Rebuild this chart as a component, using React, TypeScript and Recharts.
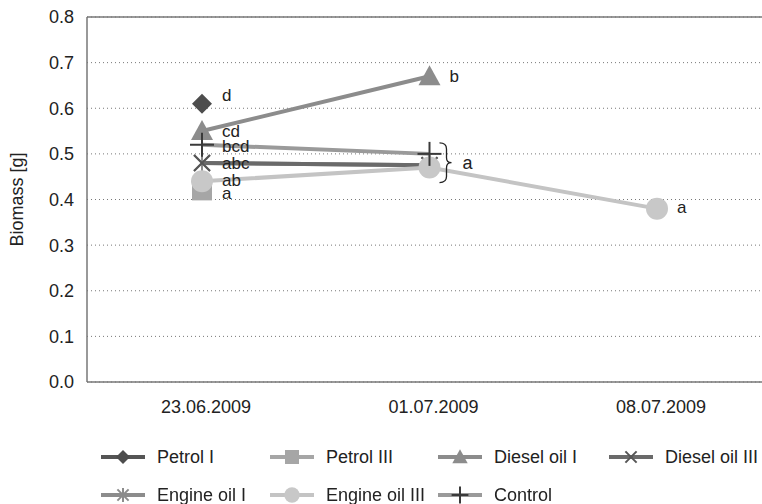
import React from 'react';
import { LineChart, Line, XAxis, YAxis, CartesianGrid, ReferenceLine, LabelList } from 'recharts';

const categories = ['23.06.2009', '01.07.2009', '08.07.2009'];
const yTicks = [0, 0.1, 0.2, 0.3, 0.4, 0.5, 0.6, 0.7, 0.8];

const petrolI = [0.61, null, null];
const petrolIII = [0.42, null, null];
const dieselI = [0.55, 0.67, null];
const dieselIII = [0.48, 0.475, null];
const engineI = [0.48, 0.475, null];
const engineIII = [0.44, 0.47, 0.38];
const control = [0.52, 0.5, null];

// significance letters next to the points
const petrolILetters = ['d', '', ''];
const petrolIIILetters = ['a', '', ''];
const dieselILetters = ['cd', 'b', ''];
const dieselIIILetters = ['', '', ''];
const engineILetters = ['abc', '', ''];
const engineIIILetters = ['ab', '', 'a'];
const controlLetters = ['bcd', '', ''];

// the three series grouped by the brace on 01.07.2009
const braceGroup = [control[1], dieselIII[1], engineIII[1]] as number[];
const braceLetter = 'a';

const FONT = '"Liberation Sans", Arial, sans-serif';

type MarkerKind = 'diamond' | 'square' | 'triangle' | 'x' | 'star' | 'circle' | 'plus';

interface SeriesDef {
  key: string;
  name: string;
  values: (number | null)[];
  letters: string[];
  line: string;
  marker: MarkerKind;
  markerColor: string;
  labelDy: number;
}

const series: SeriesDef[] = [
  { key: 'petrolI', name: 'Petrol I', values: petrolI, letters: petrolILetters, line: '#555555', marker: 'diamond', markerColor: '#4d4d4d', labelDy: -8 },
  { key: 'petrolIII', name: 'Petrol III', values: petrolIII, letters: petrolIIILetters, line: '#a6a6a6', marker: 'square', markerColor: '#a6a6a6', labelDy: 3 },
  { key: 'dieselI', name: 'Diesel oil I', values: dieselI, letters: dieselILetters, line: '#8c8c8c', marker: 'triangle', markerColor: '#8c8c8c', labelDy: 0 },
  { key: 'engineI', name: 'Engine oil I', values: engineI, letters: engineILetters, line: '#8c8c8c', marker: 'star', markerColor: '#8c8c8c', labelDy: 0 },
  { key: 'dieselIII', name: 'Diesel oil III', values: dieselIII, letters: dieselIIILetters, line: '#6a6a6a', marker: 'x', markerColor: '#555555', labelDy: 0 },
  { key: 'engineIII', name: 'Engine oil III', values: engineIII, letters: engineIIILetters, line: '#c4c4c4', marker: 'circle', markerColor: '#c8c8c8', labelDy: -1 },
  { key: 'control', name: 'Control', values: control, letters: controlLetters, line: '#9a9a9a', marker: 'plus', markerColor: '#3a3a3a', labelDy: 2 },
];

// legend order and placement (two rows, Excel style)
const legendRows = [
  ['petrolI', 'petrolIII', 'dieselI', 'dieselIII'],
  ['engineI', 'engineIII', 'control'],
];
const legendCols = [101, 270, 438, 609];
const legendRowY = [457, 495];

const data = categories.map((date, i) => {
  const row: any = { date };
  series.forEach((s) => {
    row[s.key] = s.values[i];
    row[s.key + 'Sig'] = s.letters[i];
  });
  return row;
});

const Marker = ({ kind, cx, cy, color, size = 10 }: { kind: MarkerKind; cx: number; cy: number; color: string; size?: number }) => {
  const s = size;
  switch (kind) {
    case 'diamond':
      return <polygon points={`${cx},${cy - s} ${cx + s},${cy} ${cx},${cy + s} ${cx - s},${cy}`} fill={color} />;
    case 'square':
      return <rect x={cx - s} y={cy - s} width={2 * s} height={2 * s} fill={color} />;
    case 'triangle':
      return <polygon points={`${cx},${cy - s * 1.1} ${cx + s * 1.1},${cy + s * 0.9} ${cx - s * 1.1},${cy + s * 0.9}`} fill={color} />;
    case 'circle':
      return <circle cx={cx} cy={cy} r={s * 1.1} fill={color} />;
    case 'x':
      return (
        <g stroke={color} strokeWidth={2}>
          <line x1={cx - s * 0.8} y1={cy - s * 0.8} x2={cx + s * 0.8} y2={cy + s * 0.8} />
          <line x1={cx - s * 0.8} y1={cy + s * 0.8} x2={cx + s * 0.8} y2={cy - s * 0.8} />
        </g>
      );
    case 'star':
      return (
        <g stroke={color} strokeWidth={2}>
          <line x1={cx - s * 0.8} y1={cy - s * 0.8} x2={cx + s * 0.8} y2={cy + s * 0.8} />
          <line x1={cx - s * 0.8} y1={cy + s * 0.8} x2={cx + s * 0.8} y2={cy - s * 0.8} />
          <line x1={cx} y1={cy - s} x2={cx} y2={cy + s} />
        </g>
      );
    case 'plus':
      return (
        <g stroke={color} strokeWidth={2}>
          <line x1={cx - s * 1.2} y1={cy} x2={cx + s * 1.2} y2={cy} />
          <line x1={cx} y1={cy - s * 1.2} x2={cx} y2={cy + s * 1.2} />
        </g>
      );
  }
  return null;
};

const renderDot = (s: SeriesDef) => (props: any) => {
  const { cx, cy, index, value } = props;
  if (value == null || cx == null || cy == null) return <g key={`${s.key}-dot-${index}`} />;
  return (
    <g key={`${s.key}-dot-${index}`}>
      <Marker kind={s.marker} cx={cx} cy={cy} color={s.markerColor} />
    </g>
  );
};

const renderLetter = (s: SeriesDef) => (props: any) => {
  const { x, y, value, index } = props;
  if (!value || x == null || y == null) return null;
  return (
    <text key={`${s.key}-sig-${index}`} x={x + 20} y={y + s.labelDy} dominantBaseline="central" fontSize={17} fill="#222" fontFamily={FONT}>
      {value}
    </text>
  );
};

// curly brace to the right of a vertical segment, with its letter
const Brace = (props: any) => {
  const { x1, y1, y2 } = props;
  if (x1 == null || y1 == null || y2 == null) return null;
  const top = Math.min(y1, y2) - 11;
  const bot = Math.max(y1, y2) + 15;
  const mid = (top + bot) / 2;
  const x0 = x1 + 10;
  const xv = x0 + 7;
  const tip = x0 + 12;
  const d = `M ${x0} ${top} Q ${xv} ${top} ${xv} ${top + 6} L ${xv} ${mid - 5} Q ${xv} ${mid} ${tip} ${mid} Q ${xv} ${mid} ${xv} ${mid + 5} L ${xv} ${bot - 6} Q ${xv} ${bot} ${x0} ${bot}`;
  return (
    <g>
      <path d={d} fill="none" stroke="#222" strokeWidth={1.3} />
      <text x={x1 + 33} y={mid} dominantBaseline="central" fontSize={18} fill="#222" fontFamily={FONT}>
        {braceLetter}
      </text>
    </g>
  );
};

const YLabel = (props: any) => {
  const { viewBox } = props;
  const x = 17;
  const y = viewBox.y + viewBox.height / 2;
  return (
    <text x={x} y={y} transform={`rotate(-90 ${x} ${y})`} textAnchor="middle" dominantBaseline="central" fontSize={18} fill="#222" fontFamily={FONT}>
      Biomass [g]
    </text>
  );
};

const ChartLegend = () => {
  const byKey: Record<string, SeriesDef> = {};
  series.forEach((s) => (byKey[s.key] = s));
  return (
    <div style={{ position: 'absolute', left: 0, top: 0, width: 762, height: 504, pointerEvents: 'none' }}>
      {legendRows.map((row, r) =>
        row.map((key, c) => {
          const s = byKey[key];
          return (
            <div key={key} style={{ position: 'absolute', left: legendCols[c], top: legendRowY[r] - 12, height: 24, display: 'flex', alignItems: 'center' }}>
              <svg width={44} height={24} style={{ display: 'block' }}>
                <line x1={0} y1={12} x2={44} y2={12} stroke={s.line} strokeWidth={4} />
                <Marker kind={s.marker} cx={22} cy={12} color={s.markerColor} size={7} />
              </svg>
              <span style={{ marginLeft: 12, fontSize: 18, color: '#222', fontFamily: FONT, whiteSpace: 'nowrap' }}>{s.name}</span>
            </div>
          );
        })
      )}
    </div>
  );
};

const App: React.FC = () => {
  const groupTop = Math.max(...braceGroup);
  const groupBottom = Math.min(...braceGroup);

  return (
    <div style={{ position: 'fixed', left: 0, top: 0, width: 762, height: 504, background: '#fff', fontFamily: FONT }}>
      <LineChart width={762} height={504} data={data} margin={{ top: 17, right: 0, bottom: 82, left: 0 }}>
        <CartesianGrid vertical={false} stroke="#777" strokeDasharray="1 3" />
        <XAxis
          dataKey="date"
          scale="point"
          padding={{ left: 115, right: 105 }}
          axisLine={{ stroke: '#777', strokeWidth: 1.5 }}
          tickLine={false}
          tickMargin={12}
          height={40}
          tick={{ fontSize: 18, fill: '#222', fontFamily: FONT, dx: 4 }}
        />
        <YAxis
          domain={[0, 0.8]}
          ticks={yTicks}
          tickFormatter={(v: number) => v.toFixed(1)}
          width={87}
          axisLine={{ stroke: '#777', strokeWidth: 1.5 }}
          tickLine={false}
          tickMargin={7}
          tick={{ fontSize: 18, fill: '#222', fontFamily: FONT }}
          label={<YLabel />}
        />
        <ReferenceLine y={0.8} stroke="#777" strokeWidth={1.5} />
        {series.map((s) => (
          <Line
            key={s.key}
            type="linear"
            dataKey={s.key}
            name={s.name}
            stroke={s.line}
            strokeWidth={4}
            dot={renderDot(s)}
            activeDot={false}
            isAnimationActive={false}
          >
            <LabelList dataKey={s.key + 'Sig'} content={renderLetter(s)} />
          </Line>
        ))}
        <ReferenceLine
          segment={[
            { x: categories[1], y: groupTop },
            { x: categories[1], y: groupBottom },
          ]}
          shape={<Brace />}
        />
      </LineChart>
      <ChartLegend />
    </div>
  );
};

export default App;
